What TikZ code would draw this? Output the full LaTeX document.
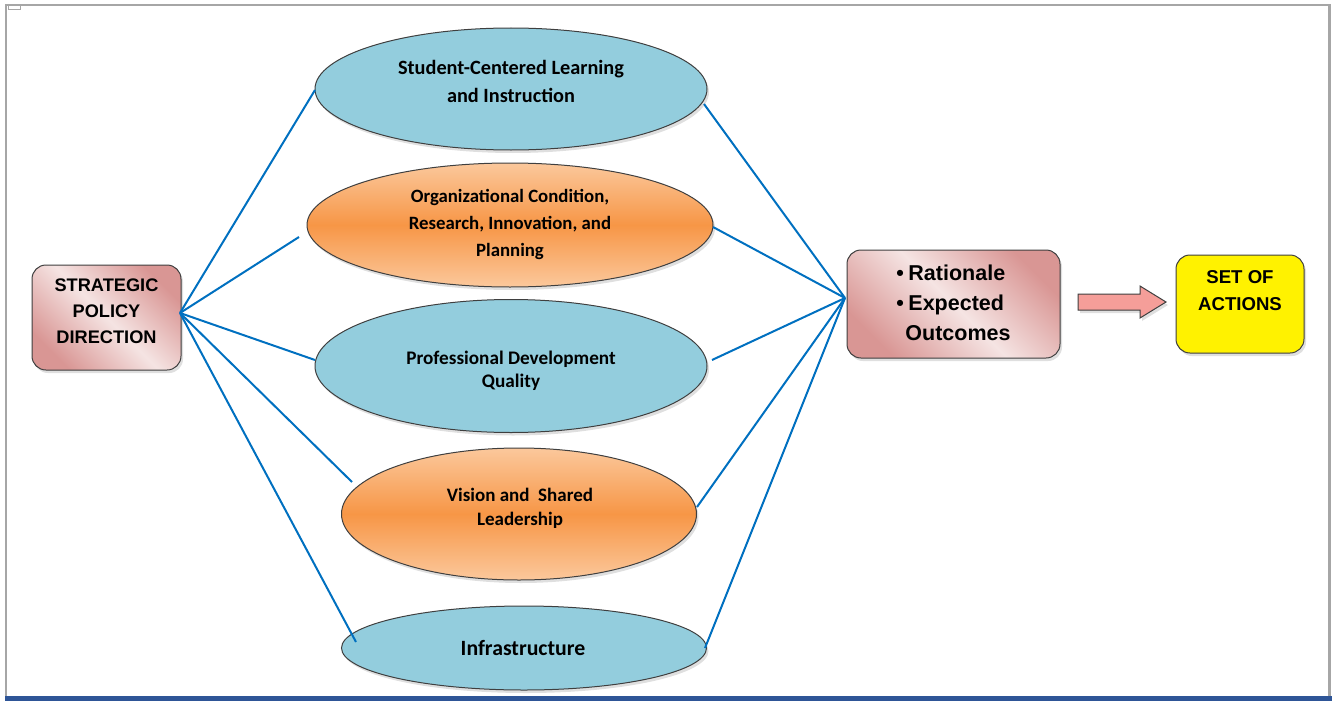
\documentclass[tikz,border=0pt]{standalone}
\usepackage{fontspec}
\setmainfont{Liberation Sans}
\newfontfamily\calfont{Carlito}
\usetikzlibrary{shapes.geometric,shadows}
\definecolor{linkblue}{HTML}{0070C0}
\definecolor{ellblue}{HTML}{93CDDD}
\definecolor{orgmid}{HTML}{F79646}
\definecolor{orglight}{HTML}{FBC89C}
\definecolor{pinkdark}{HTML}{D99694}
\definecolor{pinklight}{HTML}{F5E4E3}
\definecolor{arrowpink}{HTML}{F59E99}
\definecolor{framegray}{HTML}{A6A6A6}
\definecolor{barblue}{HTML}{2E5597}
\definecolor{edgegray}{HTML}{3F3F3F}
\begin{document}
\begin{tikzpicture}[x=1pt,y=-1pt,
  shd/.style={drop shadow={opacity=0.25,shadow xshift=2pt,shadow yshift=-3pt}},
  ellbase/.style={ellipse,draw=edgegray,line width=1pt,inner sep=0pt,shd},
  ellb/.style={ellbase,fill=ellblue},
  ello/.style={ellbase,top color=orglight,bottom color=orglight,middle color=orgmid},
  etext/.style={align=center,inner sep=0pt},
  pinkbox/.style={rectangle,rounded corners=14pt,draw=edgegray,line width=1pt,
    top color=pinkdark,bottom color=pinkdark,middle color=pinklight,shading angle=-45,
    align=center,inner sep=0pt,shd},
  yellowbox/.style={rectangle,rounded corners=14pt,draw=edgegray,line width=1pt,
    fill=yellow,align=center,inner sep=0pt,shd},
  conn/.style={draw=linkblue,line width=2pt}]
\useasboundingbox (0,0) rectangle (1332,701);
% frame
\draw[framegray,line width=2pt] (6,697) -- (6,5) -- (1329,5);
\draw[framegray,line width=3pt] (1329.5,4) -- (1329.5,697);
\draw[framegray,line width=0.8pt] (8.5,5) rectangle (20,9);
\fill[barblue] (5,696) rectangle (1332,701);

% ellipses
\node[ellb,minimum width=392pt,minimum height=122pt] (e1) at (511,89) {};
\node[ello,minimum width=406pt,minimum height=124pt] (e2) at (510,225) {};
\node[ellb,minimum width=392pt,minimum height=133pt] (e3) at (511,366) {};
\node[ello,minimum width=355pt,minimum height=132pt] (e4) at (519,514) {};
\node[ellb,minimum width=365pt,minimum height=84pt] (e5) at (524,648) {};

\node[etext,font=\calfont\bfseries\fontsize{20.3}{28}\selectfont] (t1) at (511,81)
  {Student-Centered Learning\\and Instruction};
\node[etext,font=\calfont\bfseries\fontsize{18.8}{27}\selectfont] (t2) at (510,224)
  {Organizational Condition,\\Research, Innovation, and\\Planning};
\node[etext,font=\calfont\bfseries\fontsize{19.2}{23}\selectfont] (t3) at (511,371)
  {Professional Development\\Quality};
\node[etext,font=\calfont\bfseries\fontsize{19}{24}\selectfont] (t4) at (520,508)
  {Vision and\ \ Shared\\Leadership};
\node[etext,font=\calfont\bfseries\fontsize{21.8}{28}\selectfont] (t5) at (523,648)
  {Infrastructure};

% boxes
\node[pinkbox,minimum width=149pt,minimum height=105pt,
  font=\bfseries\fontsize{18.2}{26}\selectfont] (spd) at (106.5,317.5)
  {STRATEGIC\\POLICY\\DIRECTION\\[-14pt]\mbox{}};
\node[pinkbox,minimum width=213pt,minimum height=108pt,
  font=\bfseries\fontsize{21.5}{30}\selectfont] (rat) at (953.5,304)
  {\begin{tabular}{@{}l@{}}\makebox[12pt][l]{•}Rationale\\\makebox[12pt][l]{•}Expected\\\hspace{9pt}Outcomes\end{tabular}};
\node[yellowbox,minimum width=128pt,minimum height=98pt,
  font=\bfseries\fontsize{18.6}{27}\selectfont] (soa) at (1240,304)
  {SET OF\\ACTIONS\\\mbox{}};

% block arrow
\draw[draw=edgegray,line width=1pt,fill=arrowpink,shd]
  (1078,294) -- (1140,294) -- (1140,286) -- (1166,302) -- (1140,318) -- (1140,310) -- (1078,310) -- cycle;

% connectors
\coordinate (L) at (180,313);
\coordinate (R) at (845,298);
\coordinate (a1) at (315,90);
\coordinate (a2) at (299,237);
\coordinate (a3) at (315,360);
\coordinate (a4) at (352,482);
\coordinate (a5) at (356,642);
\coordinate (b1) at (704,104);
\coordinate (b2) at (713,227);
\coordinate (b3) at (712,360);
\coordinate (b4) at (697,507);
\coordinate (b5) at (705,648);
\foreach \i in {1,...,5} {
  \draw[conn] (L) -- (a\i);
  \draw[conn] (b\i) -- (R);
}
\end{tikzpicture}
\end{document}
